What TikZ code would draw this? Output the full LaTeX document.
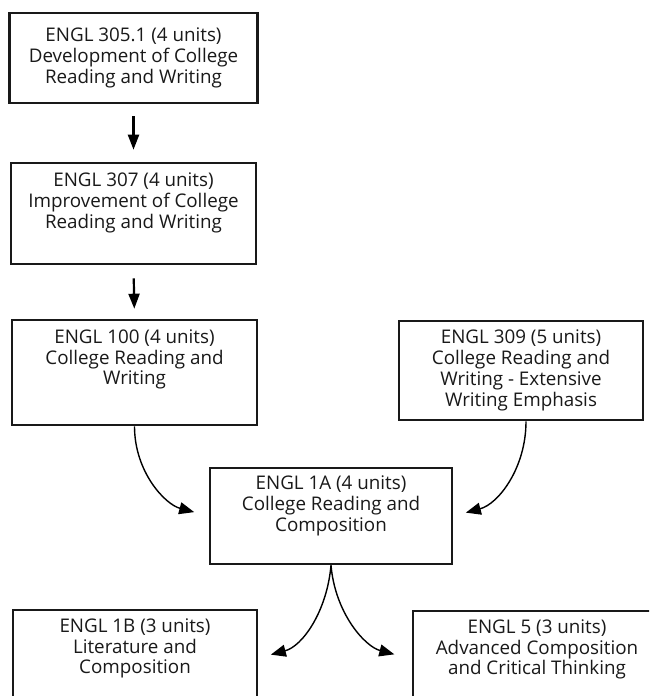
\documentclass[tikz,border=0pt]{standalone}
\usepackage{fontspec}
\setmainfont{Open Sans}
\usetikzlibrary{arrows.meta}
\begin{document}
\begin{tikzpicture}[x=1pt,y=1pt,
  box/.style={draw=black!90, line width=2.6pt, align=center, inner sep=0pt,
    font=\fontsize{18.8}{20.8}\selectfont, text=black!90},
  varrow/.style={line width=2.2pt, -{Triangle[length=15pt,width=11pt]}},
  carrow/.style={line width=1.4pt, -{Triangle[length=15pt,width=12pt]}}]
\useasboundingbox (0,0) rectangle (649,-696);
\clip (0,0) rectangle (649,-696);
\fill[white] (0,0) rectangle (649,-696);

\node[box, minimum width=248pt, minimum height=90pt] (b1) at (133.5,-58)
  {ENGL 305.1 (4 units)\\Development of College\\Reading and Writing};
\node[box, minimum width=245pt, minimum height=101pt] (b2) at (133.5,-213.5)
  {ENGL 307 (4 units)\\Improvement of College\\Reading and Writing\\[5pt]};
\node[box, minimum width=245pt, minimum height=105pt] (b3) at (134.5,-372.5)
  {ENGL 100 (4 units)\\College Reading and\\Writing\\[10pt]};
\node[box, minimum width=244pt, minimum height=99pt] (b4) at (521,-370.5)
  {ENGL 309 (5 units)\\College Reading and\\Writing - Extensive\\Writing Emphasis};
\node[box, minimum width=242pt, minimum height=96pt] (b1a) at (331,-516)
  {ENGL 1A (4 units)\\College Reading and\\Composition\\[4pt]};
\node[box, minimum width=244pt, minimum height=96pt] (b1b) at (135,-658)
  {ENGL 1B (3 units)\\Literature and\\Composition\\[3pt]};
\node[box, minimum width=248pt, minimum height=96pt] (b5) at (537,-659)
  {ENGL 5 (3 units)\\Advanced Composition\\and Critical Thinking\\[3pt]};

\draw[varrow, shorten <=12pt, shorten >=12pt] (b1.south) -- (b2.north);
\draw[varrow, shorten <=13pt, shorten >=10pt] (b2.south) -- (b3.north);

\draw[carrow, shorten >=15pt] (b3.south) to[out=-90, in=165] (b1a.west);
\draw[carrow, shorten >=13pt] ([xshift=5pt]b4.south) to[out=-90, in=15] (b1a.east);
\draw[carrow, shorten >=13pt] (b1a.south) to[out=-95, in=15] (b1b.east);
\draw[carrow, shorten >=18pt] (b1a.south) to[out=-85, in=165] (b5.west);
\end{tikzpicture}
\end{document}
